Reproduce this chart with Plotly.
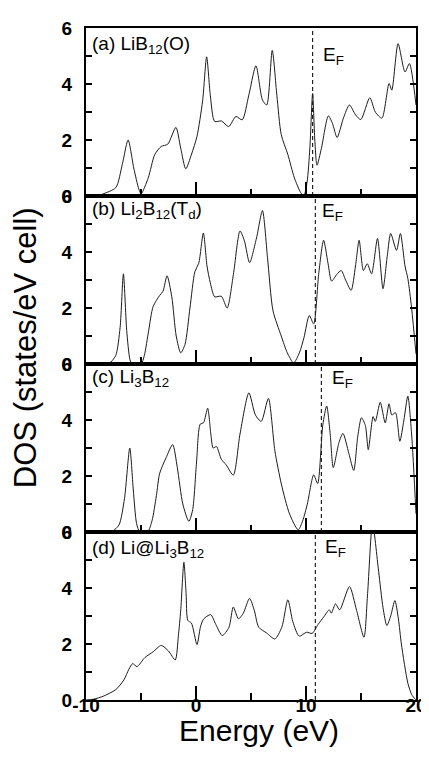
import plotly.graph_objects as go
from plotly.subplots import make_subplots

# ---------------- data ----------------
energy_a = [-10, -8.8, -8.47, -7.29, -6.7, -6.17, -5.66, -5.2, -4.99, -4.34, -3.75, -3.16, -2.57,
            -1.83, -1.39, -0.93, -0.4, 0.09, 0.6, 0.97, 1.3, 1.7, 2.3, 2.97, 3.63, 4.2, 4.8, 5.45,
            6.04, 6.43, 6.93, 7.35, 7.75, 8.35, 8.94, 9.52, 9.8, 10.1, 10.35, 10.6, 10.8, 11.0,
            11.4, 12.03, 12.4, 12.83, 13.4, 13.95, 14.5, 14.98, 15.8, 16.3, 16.9, 17.55, 17.8,
            18.37, 19.0, 19.4, 20.0]
dos_a = [0.0, 0.02, 0.07, 0.3, 1.13, 2.0, 1.0, 0.25, 0.08, 0.65, 1.48, 1.77, 1.85,
         2.45, 1.71, 0.97, 1.5, 2.13, 3.4, 4.97, 3.6, 2.66, 2.68, 2.48, 2.84, 2.72, 3.6, 4.65,
         3.43, 3.25, 5.2, 3.6, 2.19, 1.48, 0.65, 0.12, 0.0, 0.5, 1.7, 3.66, 2.0, 1.1,
         1.7, 2.86, 2.6, 2.09, 2.78, 3.25, 2.9, 2.73, 3.51, 3.0, 2.78, 4.02, 3.78,
         5.44, 4.43, 4.73, 3.25]

energy_b = [-10, -8.5, -7.9, -7.3, -6.9, -6.6, -6.3, -6.0, -5.8, -5.0, -4.7, -4.3, -3.9, -3.3,
            -3.0, -2.63, -2.2, -1.8, -1.39, -1.0, -0.55, -0.1, 0.25, 0.67, 1.0, 1.3, 1.7, 2.3,
            2.83, 3.4, 4.0, 4.4, 4.87, 5.5, 6.04, 6.5, 7.0, 7.75, 8.3, 8.88, 9.4, 9.82, 10.3,
            10.7, 11.15, 11.6, 12.0, 12.33, 12.8, 13.2, 13.6, 14.1, 14.5, 14.83, 15.22, 15.57,
            15.96, 16.5, 17.0, 17.4, 17.7, 18.23, 18.58, 19.0, 19.26, 19.6, 20.0]
dos_b = [0.0, 0.0, 0.02, 0.3, 1.3, 3.22, 1.2, 0.15, 0.0, 0.0, 0.3, 1.2, 2.05, 2.45,
         2.6, 3.15, 2.4, 1.0, 0.4, 0.7, 2.0, 3.3, 3.6, 4.68, 3.5, 2.9, 2.4, 2.42,
         2.0, 3.2, 4.75, 4.4, 3.62, 4.5, 5.48, 3.8, 1.9, 1.0, 0.4, 0.04, 0.4, 0.95, 1.73,
         1.43, 3.2, 4.42, 3.6, 2.96, 3.2, 3.34, 3.0, 2.63, 3.5, 4.42, 3.34, 3.58,
         3.22, 4.48, 2.69, 3.9, 4.66, 4.06, 4.66, 3.5, 3.05, 2.0, 0.36]

energy_c = [-10, -8.5, -7.6, -7.0, -6.5, -6.02, -5.7, -5.4, -5.1, -4.4, -4.0, -3.6, -3.3, -2.72,
            -2.12, -1.7, -1.2, -0.65, -0.3, 0.05, 0.38, 0.68, 1.06, 1.35, 1.56, 1.86, 2.3, 2.74,
            3.39, 4.0, 4.81, 5.4, 5.93, 6.58, 7.17, 7.76, 8.5, 9.29, 9.7, 10.12, 10.7, 11.06,
            11.53, 11.88, 12.2, 12.48, 13.0, 13.36, 13.9, 14.34, 14.7, 15.04, 15.4, 15.66, 16.1,
            16.3, 16.75, 17.2, 17.55, 17.8, 18.14, 18.53, 18.9, 19.26, 19.6, 20.0]
dos_c = [0.0, 0.0, 0.03, 0.25, 1.2, 3.0, 1.5, 0.3, 0.0, 0.0, 0.4, 1.3, 2.1, 2.65,
         3.12, 2.3, 1.0, 0.38, 0.8, 2.5, 3.85, 3.9, 4.42, 3.5, 3.0, 3.05, 2.6, 2.4,
         2.03, 3.5, 4.97, 4.18, 3.95, 4.77, 2.9, 1.71, 0.65, 0.08, 0.4, 1.0, 2.04, 1.73,
         3.83, 4.5, 3.5, 2.3, 3.2, 3.52, 2.8, 2.2, 3.4, 4.08, 3.8, 2.94, 4.12,
         3.95, 4.63, 3.9, 4.58, 4.18, 4.26, 3.24, 4.0, 4.85, 3.5, 0.65]

energy_d = [-10, -9.3, -8.46, -7.29, -6.55, -6.1, -5.75, -5.37, -4.64, -3.9, -3.16, -2.5, -1.89,
            -1.6, -1.39, -1.1, -0.9, -0.74, -0.42, 0.09, 0.4, 0.67, 1.33, 1.8, 2.39, 3.0, 3.39,
            3.86, 4.3, 4.87, 5.3, 5.7, 6.43, 7.17, 7.8, 8.35, 8.8, 9.38, 10.05, 10.56, 11.1,
            11.6, 12.12, 12.3, 12.68, 13.06, 13.95, 14.6, 15.27, 15.6, 16.05, 16.6, 17.0, 17.35,
            17.7, 18.08, 18.4, 18.67, 19.26, 19.6, 19.9, 20.0]
dos_d = [0.0, 0.03, 0.13, 0.37, 0.72, 1.1, 1.3, 1.19, 1.52, 1.72, 1.95, 1.75, 1.43,
         2.3, 3.2, 4.92, 3.8, 2.84, 2.75, 1.98, 2.6, 2.88, 3.05, 2.7, 2.3, 2.6, 3.32,
         2.9, 3.1, 3.63, 3.2, 2.6, 2.39, 2.18, 2.6, 3.58, 2.8, 2.28, 2.42, 2.38, 2.7,
         2.96, 3.22, 3.1, 3.43, 3.22, 4.05, 3.2, 2.24, 3.8, 6.3, 4.6, 3.3, 2.66,
         3.0, 3.55, 2.9, 2.0, 0.6, 0.2, 0.04, 0.0]

fermi_levels = [10.6, 10.85, 11.4, 10.85]
panel_labels = ["(a) LiB<sub>12</sub>(O)",
                "(b) Li<sub>2</sub>B<sub>12</sub>(T<sub>d</sub>)",
                "(c) Li<sub>3</sub>B<sub>12</sub>",
                "(d) Li@Li<sub>3</sub>B<sub>12</sub>"]
x_tick_vals = [-10, 0, 10, 20]
x_tick_text = ["-10", "0", "10", "20"]
x_minor_vals = [-5, 5, 15]
y_tick_vals = [0, 1, 2, 3, 4, 5, 6]
y_tick_text = ["0", "", "2", "", "4", "", "6"]

energies = [energy_a, energy_b, energy_c, energy_d]
doses = [dos_a, dos_b, dos_c, dos_d]

# ---------------- layout styling ----------------
label_y = [0.900, 0.915, 0.918, 0.897]
ef_label_y = [0.836, 0.903, 0.912, 0.903]
ef_label_dx = [0.75, 0.42, 0.75, 0.68]

FONT = "Liberation Sans, Arial, Helvetica, sans-serif"

fig = make_subplots(rows=4, cols=1, shared_xaxes=True, vertical_spacing=0)

for i in range(4):
    fig.add_trace(go.Scatter(x=energies[i], y=doses[i], mode="lines",
                             line=dict(color="#1c1c1c", width=1.0, shape="spline", smoothing=0.7),
                             showlegend=False, hoverinfo="skip"), row=i + 1, col=1)
    ef = fermi_levels[i]
    fig.add_trace(go.Scatter(x=[ef, ef], y=[0, 6], mode="lines",
                             line=dict(color="#222222", width=1.2, dash="4px,3px"),
                             showlegend=False, hoverinfo="skip"), row=i + 1, col=1)
    xr = "x" if i == 0 else f"x{i + 1}"
    yr = "y" if i == 0 else f"y{i + 1}"
    fig.add_annotation(text=panel_labels[i], xref=f"{xr} domain", yref=f"{yr} domain",
                       x=0.012, y=label_y[i], xanchor="left", yanchor="middle",
                       showarrow=False, font=dict(family=FONT, size=19, color="black"))
    fig.add_annotation(text="E<sub>F</sub>", xref=xr, yref=f"{yr} domain",
                       x=ef + ef_label_dx[i], y=ef_label_y[i], xanchor="left", yanchor="middle",
                       showarrow=False, font=dict(family=FONT, size=19, color="black"))

fig.update_xaxes(range=[-10, 20], tickvals=x_tick_vals, ticktext=x_tick_text,
                 ticks="inside", ticklen=14, tickwidth=1.5, tickcolor="black",
                 showline=True, linewidth=2, linecolor="black", mirror=True,
                 showgrid=False, zeroline=False, ticklabelstandoff=-13,
                 tickfont=dict(family=FONT, size=19, color="black", weight="bold"),
                 minor=dict(tickvals=x_minor_vals, ticks="inside", ticklen=7,
                            tickwidth=1.5, tickcolor="black", showgrid=False))
fig.update_yaxes(range=[0, 6], tickvals=y_tick_vals, ticktext=y_tick_text,
                 ticks="inside", ticklen=6, tickwidth=1.5, tickcolor="black",
                 showline=True, linewidth=2, linecolor="black", mirror="ticks",
                 showgrid=False, zeroline=False, ticklabelstandoff=8,
                 tickfont=dict(family=FONT, size=19, color="black", weight="bold"))

fig.add_annotation(text="DOS (states/eV cell)", xref="paper", yref="paper",
                   x=-0.185, y=0.525, textangle=-90, xanchor="center", yanchor="middle",
                   showarrow=False, font=dict(family=FONT, size=31, color="black"))
fig.add_annotation(text="Energy (eV)", xref="paper", yref="paper",
                   x=0.523, y=-0.046, xanchor="center", yanchor="middle",
                   showarrow=False, font=dict(family=FONT, size=30, color="black"))

fig.update_layout(width=429, height=760,
                  margin=dict(l=78, r=12, t=10, b=68),
                  plot_bgcolor="white", paper_bgcolor="white",
                  font=dict(family=FONT, color="black"))

fig.write_html("out.html")
